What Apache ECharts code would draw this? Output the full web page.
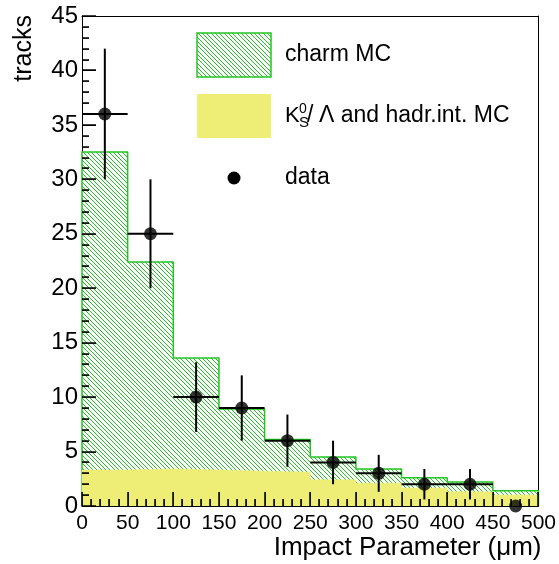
<!DOCTYPE html>
<html>
<head>
<meta charset="utf-8">
<script src="https://cdn.jsdelivr.net/npm/echarts@6/dist/echarts.min.js"></script>
<style>
html,body{margin:0;padding:0;background:#fff;}
#chart{width:559px;height:564px;}
</style>
</head>
<body>
<div id="chart"></div>
<script>
// ---- data ----
const binEdges = [0, 50, 100, 150, 200, 250, 300, 350, 400, 450, 500];
const charmTotal = [32.5, 22.4, 13.6, 8.9, 6.1, 4.5, 3.4, 2.6, 2.2, 1.4];   // charm MC (stacked total)
const background = [3.3, 3.4, 3.3, 3.2, 3.1, 2.4, 2.1, 1.65, 1.3, 1.0];  // K0s/Lambda and hadr.int. MC
const dataCounts = [36, 25, 10, 9, 6, 4, 3, 2, 2, 0];
const dataErrors = [6, 5, 3.2, 3, 2.4, 2, 1.7, 1.4, 1.4, 0];
const xMajorTicks = [0, 50, 100, 150, 200, 250, 300, 350, 400, 450, 500];
const yMajorTicks = [0, 5, 10, 15, 20, 25, 30, 35, 40, 45];
const minorDivisions = 5;
const legendLabels = ['charm MC', 'and hadr.int. MC', 'data'];
const xTitle = 'Impact Parameter (\u03bcm)';
const yTitle = 'tracks';

const FONT = '"Liberation Sans", Arial, Helvetica, sans-serif';
const GREEN = '#22c322';
const YELLOW = '#eeee77';

function makeHatch() {
  const n = 13;
  const c = document.createElement('canvas');
  c.width = n; c.height = n;
  const ctx = c.getContext('2d');
  ctx.fillStyle = '#ffffff';
  ctx.fillRect(0, 0, n, n);
  ctx.fillStyle = GREEN;
  for (let y = 0; y < n; y++) {
    for (let x = 0; x < n; x++) {
      const d = ((x - y) % n + n) % n;
      if (d === 0 || d === 4 || d === 9) ctx.fillRect(x, y, 1, 1);
    }
  }
  return c;
}
const hatch = makeHatch();

function stepPoints(vals) {
  const pts = [[binEdges[0], 0]];
  for (let i = 0; i < vals.length; i++) pts.push([binEdges[i], vals[i]]);
  const last = binEdges[binEdges.length - 1];
  pts.push([last, vals[vals.length - 1]]);
  pts.push([last, 0]);
  return pts;
}

// tick list: [value, isMajor, orientation(0 = x axis, 1 = y axis)]
function tickList(majors, orient) {
  const out = [];
  for (let i = 0; i < majors.length; i++) {
    out.push([majors[i], 1, orient]);
    if (i < majors.length - 1) {
      const step = (majors[i + 1] - majors[i]) / minorDivisions;
      for (let k = 1; k < minorDivisions; k++) out.push([majors[i] + k * step, 0, orient]);
    }
  }
  return out;
}
const tickData = tickList(xMajorTicks, 0).concat(tickList(yMajorTicks, 1));

function tickRect(px, py, major, orient) {
  const len = major ? 14 : 7;
  if (orient === 0) {
    return {type: 'rect', shape: {x: Math.round(px) - 0.5, y: py - len, width: 1.2, height: len}, style: {fill: '#000'}};
  }
  return {type: 'rect', shape: {x: px, y: Math.round(py) - 0.5, width: len, height: 1.2}, style: {fill: '#000'}};
}

const centers = dataCounts.map((_, i) => (binEdges[i] + binEdges[i + 1]) / 2);
const pointData = dataCounts.map((v, i) => [centers[i], v]);
const errData = dataCounts.map((v, i) => [centers[i], v, dataErrors[i], binEdges[i], binEdges[i + 1]]);

const chart = echarts.init(document.getElementById('chart'), null, {renderer: 'canvas'});

const tickLabelX = {fontSize: 21, color: '#000', fontFamily: FONT, margin: 7};
const tickLabelY = {fontSize: 24, color: '#000', fontFamily: FONT, margin: 4, padding: [6, 0, 0, 0]};
const TXT = {fontFamily: FONT, fill: '#000', verticalAlign: 'middle', textVerticalAlign: 'middle'};

const legendGraphics = [
  {type: 'text', x: 24, y: 15, rotation: Math.PI / 2,
   style: {text: yTitle, fontSize: 25, fontFamily: FONT, fill: '#000', align: 'right', verticalAlign: 'middle', textAlign: 'right', textVerticalAlign: 'middle'}},
  {type: 'rect', shape: {x: 197, y: 33, width: 74, height: 44}, style: {fill: {image: hatch, repeat: 'repeat'}, stroke: GREEN, lineWidth: 1.5}, z: 20},
  {type: 'rect', shape: {x: 197, y: 94, width: 74, height: 44}, style: {fill: YELLOW}, z: 20},
  {type: 'circle', shape: {cx: 234, cy: 178, r: 6.5}, style: {fill: '#000'}, z: 20},
  {type: 'text', x: 285, y: 55, z: 20, style: Object.assign({text: legendLabels[0], fontSize: 23}, TXT)},
  {type: 'text', x: 285, y: 116, z: 20, style: Object.assign({text: 'K', fontSize: 22}, TXT)},
  {type: 'text', x: 299, y: 109, z: 20, style: Object.assign({text: '0', fontSize: 14}, TXT)},
  {type: 'text', x: 299, y: 123, z: 20, style: Object.assign({text: 'S', fontSize: 15}, TXT)},
  {type: 'text', x: 307, y: 116, z: 20, style: Object.assign({text: '/', fontSize: 23}, TXT)},
  {type: 'text', x: 319, y: 116, z: 20, style: Object.assign({text: '\u039b ' + legendLabels[1], fontSize: 23}, TXT)},
  {type: 'text', x: 285, y: 178, z: 20, style: Object.assign({text: legendLabels[2], fontSize: 23}, TXT)}
];

chart.setOption({
  animation: false,
  backgroundColor: '#fff',
  grid: {left: 82, right: 17, top: 16, bottom: 58},
  xAxis: [{
    type: 'value', min: 0, max: 500, interval: 50,
    axisLine: {show: true, onZero: false, lineStyle: {color: '#000', width: 1}},
    axisTick: {show: true, inside: true, length: 14, lineStyle: {color: '#000', width: 1}},
    splitLine: {show: false},
    axisLabel: tickLabelX,
    name: xTitle,
    nameLocation: 'end',
    nameGap: 3,
    nameTextStyle: {fontSize: 26, color: '#000', fontFamily: FONT, align: 'right', verticalAlign: 'top', padding: [29, 0, 0, 0]}
  }, {
    type: 'value', min: 0, max: 500, interval: 50, position: 'top',
    axisLine: {show: true, onZero: false, lineStyle: {color: '#000', width: 1}},
    axisTick: {show: false}, axisLabel: {show: false}, splitLine: {show: false}
  }],
  yAxis: [{
    type: 'value', min: 0, max: 45, interval: 5,
    axisLine: {show: true, onZero: false, lineStyle: {color: '#000', width: 1}},
    axisTick: {show: true, inside: true, length: 14, lineStyle: {color: '#000', width: 1}},
    splitLine: {show: false},
    axisLabel: tickLabelY
  }, {
    type: 'value', min: 0, max: 45, interval: 5, position: 'right',
    axisLine: {show: true, onZero: false, lineStyle: {color: '#000', width: 1}},
    axisTick: {show: false}, axisLabel: {show: false}, splitLine: {show: false}
  }],
  series: [
    {
      name: 'charm MC', type: 'line', step: 'end', data: stepPoints(charmTotal),
      symbol: 'none', showSymbol: false, z: 2,
      lineStyle: {color: GREEN, width: 1.5},
      areaStyle: {color: {image: hatch, repeat: 'repeat'}, opacity: 1, origin: 'start'}
    },
    {
      name: 'background MC', type: 'line', step: 'end', data: stepPoints(background),
      symbol: 'none', showSymbol: false, z: 3,
      lineStyle: {color: YELLOW, width: 0.5},
      areaStyle: {color: YELLOW, opacity: 1, origin: 'start'}
    },
    {
      name: 'axis ticks', type: 'custom', z: 6, clip: false,
      data: tickData,
      renderItem: function (params, api) {
        const v = api.value(0), major = api.value(1), orient = api.value(2);
        const p = orient === 0 ? api.coord([v, 0]) : api.coord([0, v]);
        return {type: 'group', children: [tickRect(p[0], p[1], major, orient)]};
      }
    },
    {
      name: 'data errors', type: 'custom', z: 7, clip: false,
      data: errData,
      renderItem: function (params, api) {
        const x = api.value(0), y = api.value(1), e = api.value(2), lo = api.value(3), hi = api.value(4);
        if (y === 0) return null;
        const top = api.coord([x, y + e]);
        const bot = api.coord([x, y - e]);
        const l = api.coord([lo, y]);
        const r = api.coord([hi, y]);
        const st = {stroke: '#000', lineWidth: 2};
        return {type: 'group', children: [
          {type: 'line', shape: {x1: top[0], y1: top[1], x2: bot[0], y2: bot[1]}, style: st},
          {type: 'line', shape: {x1: l[0], y1: l[1], x2: r[0], y2: r[1]}, style: st}
        ]};
      }
    },
    {
      name: 'data', type: 'scatter', data: pointData, z: 8, clip: false,
      symbol: 'circle', symbolSize: 13,
      itemStyle: {color: '#000'}
    }
  ]
});

// inside ticks (ROOT style), positioned through the axis scales
const tickGraphics = [];
tickData.forEach(function (t) {
  const p = t[2] === 0
    ? chart.convertToPixel({xAxisIndex: 0, yAxisIndex: 0}, [t[0], 0])
    : chart.convertToPixel({xAxisIndex: 0, yAxisIndex: 0}, [0, t[0]]);
  if (p && isFinite(p[0]) && isFinite(p[1])) {
    const g = tickRect(p[0], p[1], t[1], t[2]);
    g.z = 100;
    g.silent = true;
    tickGraphics.push(g);
  }
});

chart.setOption({graphic: legendGraphics.concat(tickGraphics)});
</script>
</body>
</html>
